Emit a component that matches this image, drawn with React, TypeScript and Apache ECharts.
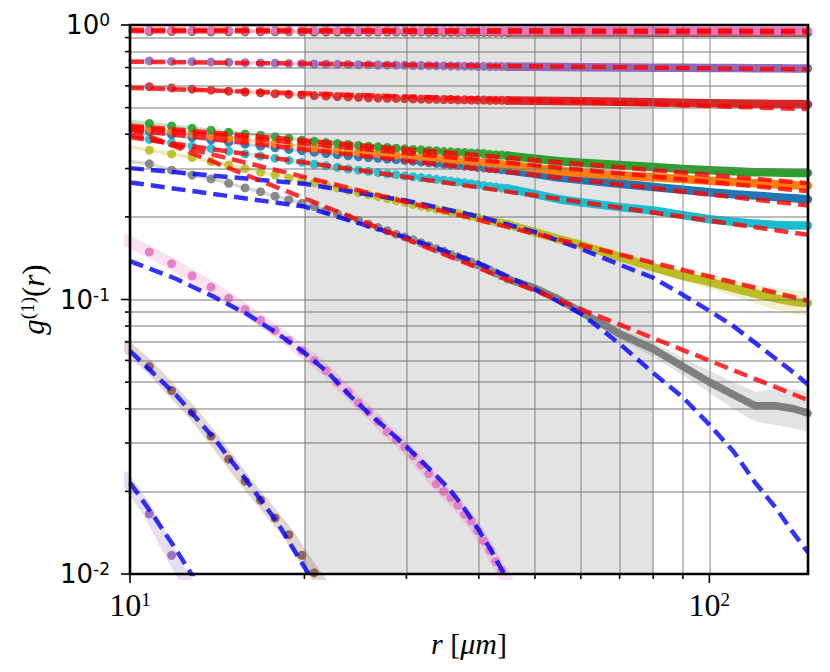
import React, { useEffect, useRef } from "react";
import * as echarts from "echarts";

// ---------- data ----------
const DOT_R = [9.8, 10.8, 11.8, 12.8, 13.8, 14.8, 15.8, 16.8, 17.8, 18.8, 19.8, 20.8, 21.8, 22.8, 23.8, 24.8, 25.8, 26.8, 27.8, 28.8, 29.8, 30.8, 31.8, 32.8, 33.8, 34.8, 35.8, 36.8, 37.8, 38.8, 39.8, 40.8, 41.8, 42.8, 43.8, 44.8];
const TAIL_R = [44.8, 50, 55, 60, 70, 80, 90, 100, 110, 120, 130, 140, 148];
const FIT_R = [10, 148];
const SHADE = [20, 80];

const X_MAJOR = [10, 100];
const X_MINOR = [20, 30, 40, 50, 60, 70, 80, 90];
const Y_MAJOR = [0.01, 0.1, 1];
const Y_MINOR = [0.02, 0.03, 0.04, 0.05, 0.06, 0.07, 0.08, 0.09, 0.2, 0.3, 0.4, 0.5, 0.6, 0.7, 0.8, 0.9];

// top curves
const pinkTopDots = [.958, .957, .957, .956, .956, .956, .955, .955, .955, .955, .954, .954, .954, .954, .954, .953, .953, .953, .953, .953, .953, .953, .952, .952, .952, .952, .952, .952, .952, .952, .951, .951, .951, .951, .951, .951];
const pinkTopTail = [.951, .951, .950, .950, .950, .950, .950, .950, .950, .950, .950, .950, .950];
const brownTopDots = [.948, .947, .946, .946, .945, .945, .945, .944, .944, .944, .944, .943, .943, .943, .943, .943, .942, .942, .942, .942, .942, .942, .942, .941, .941, .941, .941, .941, .941, .941, .941, .940, .940, .940, .940, .940];
const brownTopTail = [.940, .940, .939, .939, .939, .938, .938, .938, .938, .937, .937, .937, .937];
const purpleDots = [.743, .740, .737, .735, .733, .731, .729, .727, .726, .724, .723, .721, .720, .719, .718, .717, .716, .715, .714, .714, .713, .712, .712, .711, .710, .710, .709, .709, .708, .708, .707, .707, .706, .706, .706, .705];
const purpleTail = [.705, .704, .703, .702, .700, .699, .698, .697, .697, .696, .696, .695, .695];
const redDots = [.600, .596, .590, .584, .579, .574, .570, .566, .562, .559, .556, .553, .551, .549, .547, .545, .543, .542, .541, .540, .539, .538, .537, .536, .536, .535, .535, .534, .534, .533, .533, .533, .532, .532, .532, .531];
const redTail = [.531, .530, .529, .527, .525, .523, .521, .519, .518, .517, .516, .515, .514];
const greenDots = [.447, .438, .429, .421, .414, .407, .401, .397, .392, .387, .381, .377, .373, .370, .367, .364, .362, .360, .358, .356, .354, .352, .351, .349, .348, .346, .345, .344, .343, .342, .341, .340, .338, .337, .336, .334];
const greenTail = [.334, .326, .319, .315, .309, .304, .299, .296, .293, .291, .290, .289, .289];
const orangeDots = [.432, .421, .411, .402, .394, .387, .381, .375, .370, .365, .360, .356, .353, .350, .347, .344, .342, .340, .338, .336, .334, .332, .330, .328, .327, .325, .323, .322, .320, .319, .317, .316, .314, .313, .311, .310];
const orangeTail = [.310, .301, .294, .289, .283, .279, .275, .271, .268, .265, .263, .261, .260];
const blueDots = [.420, .409, .398, .389, .381, .374, .368, .362, .357, .352, .348, .344, .340, .337, .334, .331, .329, .327, .325, .323, .321, .319, .317, .315, .313, .311, .309, .308, .306, .305, .303, .302, .300, .299, .297, .296];
const blueTail = [.296, .287, .278, .273, .264, .257, .251, .246, .242, .239, .236, .234, .232];
const cyanDots = [.395, .383, .372, .362, .355, .347, .339, .333, .327, .321, .316, .311, .307, .303, .299, .296, .293, .290, .287, .285, .282, .280, .278, .276, .274, .272, .270, .268, .266, .264, .262, .260, .258, .257, .255, .254];
const cyanTail = [.254, .242, .232, .226, .217, .211, .203, .196, .192, .189, .187, .186, .186];
const oliveDots = [.362, .350, .339, .329, .318, .309, .300, .291, .284, .277, .270, .266, .261, .255, .250, .245, .241, .237, .233, .229, .226, .222, .219, .216, .213, .211, .208, .206, .203, .201, .199, .196, .194, .192, .190, .188];
const oliveTail = [.188, .176, .166, .158, .143, .131, .122, .116, .110, .105, .101, .098, .097];
const oliveLo = [.185, .173, .163, .155, .140, .127, .117, .110, .103, .097, .092, .089, .087];
const oliveHi = [.191, .179, .169, .161, .147, .136, .128, .123, .118, .113, .110, .108, .107];
const grayDots = [.320, .312, .296, .284, .275, .265, .255, .247, .238, .231, .224, .218, .211, .205, .199, .194, .188, .183, .178, .173, .169, .165, .161, .157, .153, .150, .146, .143, .140, .137, .134, .131, .128, .125, .122, .119];
const grayTail = [.119, .110, .100, .090, .075, .066, .057, .050, .045, .041, .041, .040, .0385];
const grayLo = [.116, .107, .097, .087, .072, .062, .053, .046, .040, .036, .035, .034, .033];
const grayHi = [.122, .113, .103, .093, .078, .070, .061, .055, .050, .046, .047, .047, .046];

// lower curves
const pinkLowDots = [.165, .149, .135, .122, .111, .101, .092, .084, .077, .071, .065, .060, .055, .050, .046, .042, .039, .036, .033, .031, .029, .027, .025, .0232, .0213, .0200, .0190, .0178, .0165, .0156, .0144, .0132, .0122, .0111, .0103, .0095];
const brownLowDots = [.068, .057, .0466, .0388, .0318, .0262, .0218, .0186, .0160, .0139, .0117, .0101, .0088];
const purpleLowDots = [.0225, .01655, .0117, .0086];

// power-law fits (red dashed), values at FIT_R
const fitPinkTop = [.962, .953];
const fitBrownTop = [.950, .940];
const fitPurple = [.735, .689];
const fitRed = [.590, .494];
const fitGreen = [.430, .265];
const fitOrange = [.425, .248];
const fitBlue = [.415, .220];
const fitCyan = [.390, .172];
const fitOlive = [.400, .099];
const fitGray = [.420, .043];

// exponential fits (blue dashed)
const EXP_R_WIDE = [10, 20, 30, 40, 50, 60, 70, 80, 90, 100, 110, 120, 130, 140, 148];
const expOlive = [.301, .264, .229, .2005, .176, .153, .134, .120, .104, .091, .080, .0695, .061, .054, .049];
const expGray = [.267, .218, .168, .1355, .109, .089, .069, .054, .044, .035, .028, .0215, .0175, .014, .012];
const EXP_R_PINK = [10, 12, 14, 16, 18, 20, 22, 24, 26, 28, 30, 32, 34, 36, 38, 40, 42, 44, 45];
const expPink = [.138, .119, .102, .088, .075, .064, .054, .0445, .038, .0332, .0291, .0255, .0225, .0198, .0170, .01445, .0122, .0102, .0094];
const EXP_R_BROWN = [10, 12, 14, 16, 18, 20, 21];
const expBrown = [.065, .045, .031, .0215, .0153, .0106, .0090];
const EXP_R_PURPLE = [10, 11, 12, 13];
const expPurple = [.0215, .0162, .0123, .0094];

// ---------- styling ----------
const C = {
  blue: "#1f77b4", orange: "#ff7f0e", green: "#2ca02c", red: "#d62728", purple: "#9467bd",
  brown: "#8c564b", pink: "#e377c2", gray: "#7f7f7f", olive: "#bcbd22", cyan: "#17becf",
};
const RED_FIT = "rgba(255,0,0,0.8)";
const BLUE_FIT = "rgba(0,0,255,0.8)";

const zip = (xs: number[], ys: number[]) => ys.map((y, i) => [xs[i], y]);

function dotSeries(vals: number[], color: string, bandW: number, bandOp: number) {
  return {
    type: "line", data: zip(DOT_R, vals), symbol: "circle", symbolSize: 9, showSymbol: true,
    clip: true, z: 3, silent: true,
    itemStyle: { color, opacity: 0.9 },
    lineStyle: { color, width: bandW, opacity: bandOp, cap: "round", join: "round" },
  };
}
function tailSeries(vals: number[], color: string, w = 8.5) {
  return {
    type: "line", data: zip(TAIL_R, vals), symbol: "none", clip: true, z: 3, silent: true,
    lineStyle: { color, width: w, cap: "round", join: "round" },
  };
}
function fitSeries(xs: number[], vals: number[], color: string) {
  return {
    type: "line", data: zip(xs, vals), symbol: "none", clip: true, z: 6, silent: true, smooth: false,
    lineStyle: { color, width: 4.5, type: [14, 7] },
  };
}
function bandSeries(xs: number[], lo: number[], hi: number[], color: string) {
  return {
    type: "custom", data: [0], clip: true, z: 2, silent: true,
    renderItem: (params: any, api: any) => {
      const pts: number[][] = [];
      xs.forEach((x, i) => pts.push(api.coord([x, hi[i]])));
      for (let i = xs.length - 1; i >= 0; i--) pts.push(api.coord([xs[i], lo[i]]));
      const cs = params.coordSys;
      return {
        type: "polygon", shape: { points: pts },
        style: { fill: color, opacity: 0.22, stroke: color, lineWidth: 1, strokeOpacity: 0.3 },
        clipPath: { type: "rect", shape: { x: cs.x, y: cs.y, width: cs.width, height: cs.height } },
      };
    },
  };
}

const isDecade = (v: number) => Math.abs(Math.log10(v) - Math.round(Math.log10(v))) < 1e-6;

export default function App() {
  const ref = useRef<HTMLDivElement>(null);
  useEffect(() => {
    document.body.style.margin = "0";
    const chart = echarts.init(ref.current!, null, { renderer: "svg" });
    const GRID = { left: 130, top: 25, width: 678, height: 549 };
    const series: any[] = [
      // grid lines
      {
        type: "line", data: [], z: 1, silent: true,
        markLine: {
          silent: true, symbol: ["none", "none"], label: { show: false }, animation: false,
          lineStyle: { color: "rgba(120,120,120,0.5)", width: 1.8, type: "solid" },
          data: [...X_MINOR.map((v) => ({ xAxis: v })), ...X_MAJOR.map((v) => ({ xAxis: v })),
            ...Y_MINOR.map((v) => ({ yAxis: v })), ...Y_MAJOR.map((v) => ({ yAxis: v }))],
        },
      },
      // shaded region
      {
        type: "line", data: [], z: 2, silent: true,
        markArea: {
          silent: true, animation: false,
          itemStyle: { color: "rgba(128,128,128,0.22)" },
          data: [[{ xAxis: SHADE[0] }, { xAxis: SHADE[1] }]],
        },
      },
      bandSeries(TAIL_R, oliveLo, oliveHi, C.olive),
      bandSeries(TAIL_R, grayLo, grayHi, C.gray),
      // lower curves
      dotSeries(purpleLowDots, C.purple, 12, 0.22),
      dotSeries(brownLowDots, C.brown, 12, 0.25),
      dotSeries(pinkLowDots, C.pink, 12, 0.22),
      // upper curves
      dotSeries(grayDots, C.gray, 3.5, 0.3), tailSeries(grayTail, C.gray, 7.5),
      dotSeries(oliveDots, C.olive, 3.5, 0.3), tailSeries(oliveTail, C.olive),
      dotSeries(cyanDots, C.cyan, 3.5, 0.3), tailSeries(cyanTail, C.cyan),
      dotSeries(blueDots, C.blue, 3.5, 0.3), tailSeries(blueTail, C.blue),
      dotSeries(orangeDots, C.orange, 3.5, 0.3), tailSeries(orangeTail, C.orange),
      dotSeries(greenDots, C.green, 3.5, 0.3), tailSeries(greenTail, C.green),
      dotSeries(redDots, C.red, 3.5, 0.3), tailSeries(redTail, C.red),
      dotSeries(purpleDots, C.purple, 3.5, 0.3), tailSeries(purpleTail, C.purple),
      dotSeries(brownTopDots, C.brown, 3.5, 0.3), tailSeries(brownTopTail, C.brown),
      dotSeries(pinkTopDots, C.pink, 3.5, 0.3), tailSeries(pinkTopTail, C.pink),
      // exponential fits
      fitSeries(EXP_R_PURPLE, expPurple, BLUE_FIT),
      fitSeries(EXP_R_BROWN, expBrown, BLUE_FIT),
      fitSeries(EXP_R_PINK, expPink, BLUE_FIT),
      fitSeries(EXP_R_WIDE, expGray, BLUE_FIT),
      fitSeries(EXP_R_WIDE, expOlive, BLUE_FIT),
      // power-law fits
      ...[fitGray, fitOlive, fitCyan, fitBlue, fitOrange, fitGreen, fitRed, fitPurple, fitBrownTop, fitPinkTop]
        .map((f) => fitSeries(FIT_R, f, RED_FIT)),
    ];

    const option: any = {
      animation: false,
      grid: { ...GRID, containLabel: false },
      xAxis: {
        type: "log", logBase: 10, min: 10, max: 148,
        axisLine: { show: false }, axisTick: { show: false }, splitLine: { show: false },
        axisLabel: {
          margin: 16, showMinLabel: true, showMaxLabel: true,
          formatter: (v: number) => (isDecade(v) ? `{b|10}{s|${Math.round(Math.log10(v))}}` : ""),
          rich: {
            b: { fontFamily: "Liberation Serif", fontSize: 32, color: "#000", lineHeight: 30 },
            s: { fontFamily: "Liberation Serif", fontSize: 19, color: "#000", verticalAlign: "top", lineHeight: 30 },
          },
        },
        name: "{i|r }{n|[}{i|μm}{n|]}", nameLocation: "middle", nameGap: 54,
        nameTextStyle: {
          rich: {
            i: { fontFamily: "Liberation Serif", fontStyle: "italic", fontSize: 30, color: "#000" },
            n: { fontFamily: "Liberation Serif", fontSize: 30, color: "#000" },
          },
        },
      },
      yAxis: {
        type: "log", logBase: 10, min: 0.01, max: 1,
        axisLine: { show: false }, axisTick: { show: false }, splitLine: { show: false },
        axisLabel: {
          margin: 20,
          formatter: (v: number) => (isDecade(v) ? `{b|10}{s|${Math.round(Math.log10(v))}}` : ""),
          rich: {
            b: { fontFamily: "DejaVu Sans", fontSize: 26, color: "#000", lineHeight: 27 },
            s: { fontFamily: "DejaVu Sans", fontSize: 17, color: "#000", verticalAlign: "top", lineHeight: 27 },
          },
        },
        name: "{i|g}{s|(1)}{n|(}{i|r}{n|)}", nameLocation: "middle", nameGap: 80, nameRotate: 90,
        nameTextStyle: {
          rich: {
            i: { fontFamily: "Liberation Serif", fontStyle: "italic", fontSize: 31, color: "#000", lineHeight: 32 },
            n: { fontFamily: "Liberation Serif", fontSize: 31, color: "#000", lineHeight: 32 },
            s: { fontFamily: "Liberation Serif", fontSize: 19, color: "#000", verticalAlign: "top", lineHeight: 32 },
          },
        },
      },
      series,
    };
    chart.setOption(option);

    // ticks and frame
    const g: any[] = [];
    const bottom = GRID.top + GRID.height;
    const left = GRID.left;
    const tick = (x1: number, y1: number, x2: number, y2: number) =>
      g.push({ type: "line", z: 100, silent: true, shape: { x1, y1, x2, y2 }, style: { stroke: "#000", lineWidth: 1.6 } });
    X_MAJOR.forEach((v) => { const x = chart.convertToPixel({ xAxisIndex: 0 }, v) as number; tick(x, bottom, x, bottom + 9); });
    X_MINOR.forEach((v) => { const x = chart.convertToPixel({ xAxisIndex: 0 }, v) as number; tick(x, bottom, x, bottom + 5); });
    Y_MAJOR.forEach((v) => { const y = chart.convertToPixel({ yAxisIndex: 0 }, v) as number; tick(left - 9, y, left, y); });
    Y_MINOR.forEach((v) => { const y = chart.convertToPixel({ yAxisIndex: 0 }, v) as number; tick(left - 5, y, left, y); });
    g.push({
      type: "rect", z: 101, silent: true,
      shape: { x: GRID.left, y: GRID.top, width: GRID.width, height: GRID.height },
      style: { fill: "none", stroke: "#000", lineWidth: 2.6 },
    });
    chart.setOption({ graphic: g });

    return () => chart.dispose();
  }, []);
  return <div ref={ref} style={{ width: 830, height: 672 }} />;
}
